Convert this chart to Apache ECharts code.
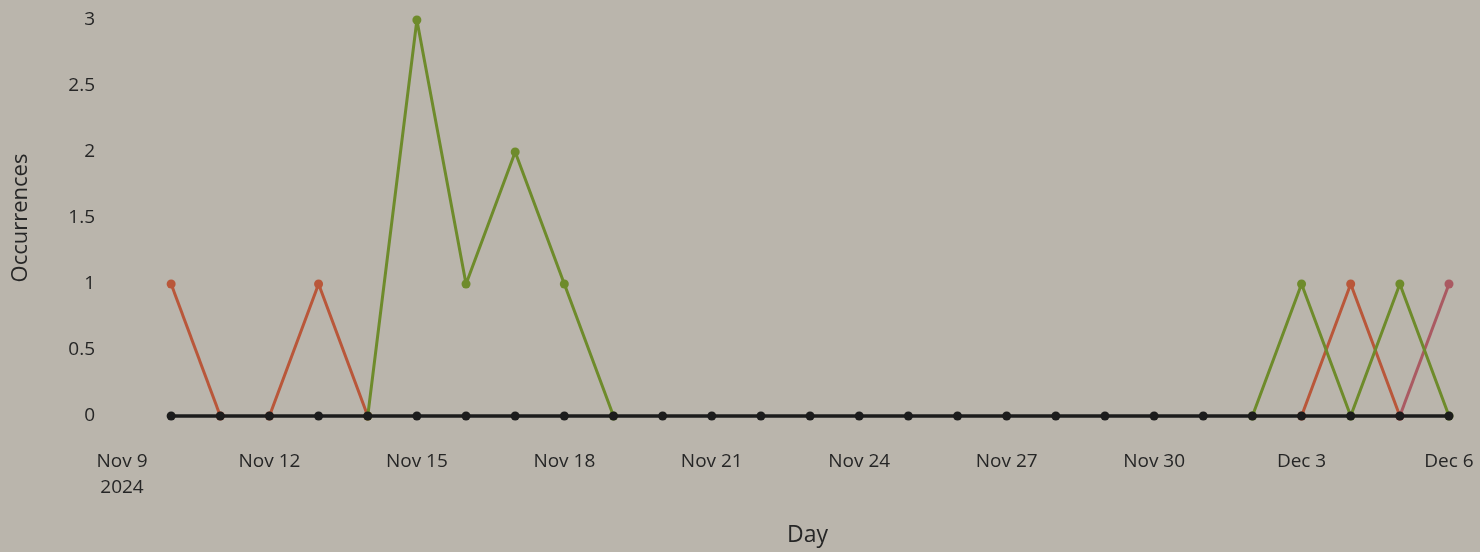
<!DOCTYPE html>
<html>
<head>
<meta charset="utf-8">
<script src="https://cdn.jsdelivr.net/npm/echarts@6/dist/echarts.min.js"></script>
<style>
html, body { margin: 0; padding: 0; background: #bab5ac; }
#chart { width: 1480px; height: 552px; }
</style>
</head>
<body>
<div id="chart"></div>
<script>
// days Nov 9 .. Dec 6 2024
var days = ['Nov 9', 'Nov 10', 'Nov 11', 'Nov 12', 'Nov 13', 'Nov 14', 'Nov 15', 'Nov 16', 'Nov 17', 'Nov 18',
	'Nov 19', 'Nov 20', 'Nov 21', 'Nov 22', 'Nov 23', 'Nov 24', 'Nov 25', 'Nov 26', 'Nov 27', 'Nov 28',
	'Nov 29', 'Nov 30', 'Dec 1', 'Dec 2', 'Dec 3', 'Dec 4', 'Dec 5', 'Dec 6'];
// orange drawn as two runs (Nov 10-11, and Nov 12 onwards)
var orangeVals1 = [null, 1, 0, null, null, null, null, null, null, null,
	null, null, null, null, null, null, null, null, null, null,
	null, null, null, null, null, null, null, null];
var orangeVals2 = [null, null, null, 0, 1, 0, null, null, null, null,
	null, null, null, null, null, null, null, null, null, null,
	null, null, null, null, 0, 1, 0, null];
var greenVals = [null, null, null, null, null, 0, 3, 1, 2, 1,
	0, null, null, null, null, null, null, null, null, null,
	null, null, null, 0, 1, 0, 1, 0];
var pinkVals = [null, null, null, null, null, null, null, null, null, null,
	null, null, null, null, null, null, null, null, null, null,
	null, null, null, null, null, null, 0, 1];
var blackVals = [null, 0, 0, 0, 0, 0, 0, 0, 0, 0,
	0, 0, 0, 0, 0, 0, 0, 0, 0, 0,
	0, 0, 0, 0, 0, 0, 0, 0];
var yTicks = [0, 0.5, 1, 1.5, 2, 2.5, 3];

var chart = echarts.init(document.getElementById('chart'));

function lineSeries(name, data, color, z, width){
	return {
		name: name,
		type: 'line',
		data: data,
		z: z,
		symbol: 'circle',
		symbolSize: 9,
		connectNulls: false,
		clip: false,
		lineStyle: { color: color, width: width },
		itemStyle: { color: color }
	};
}

var option = {
	backgroundColor: '#bab5ac',
	animation: false,
	grid: { left: 122, right: 31, top: 20, bottom: 134 },
	xAxis: {
		type: 'category',
		data: days,
		boundaryGap: false,
		name: 'Day',
		nameLocation: 'middle',
		nameGap: 108,
		nameTextStyle: { fontFamily: 'Open Sans', fontSize: 23, color: '#262626', padding: [0, 0, 0, 44] },
		axisLine: { show: false },
		axisTick: { show: false },
		splitLine: { show: false },
		axisLabel: {
			interval: 2,
			margin: 33,
			fontFamily: 'Open Sans',
			fontSize: 19,
			fontWeight: 500,
			color: '#262626',
			lineHeight: 26,
			formatter: function (value, index) {
				return index === 0 ? value + '\n2024' : value;
			}
		}
	},
	yAxis: {
		type: 'value',
		min: 0,
		max: 3,
		interval: 0.5,
		name: 'Occurrences',
		nameLocation: 'middle',
		nameGap: 90,
		nameTextStyle: { fontFamily: 'Open Sans', fontSize: 22, color: '#262626' },
		axisLine: { show: false },
		axisTick: { show: false },
		splitLine: { show: false },
		axisLabel: {
			margin: 27,
			fontFamily: 'Open Sans',
			fontSize: 19,
			fontWeight: 500,
			color: '#262626',
			formatter: function (v) { return yTicks.indexOf(v) >= 0 ? String(v) : ''; }
		}
	},
	series: [
		lineSeries('orange', orangeVals1, '#b9573a', 2, 3),
		lineSeries('orange2', orangeVals2, '#b9573a', 2, 3),
		lineSeries('green', greenVals, '#6e8b2b', 3, 3),
		lineSeries('pink', pinkVals, '#aa5a62', 2, 3),
		lineSeries('black', blackVals, '#1c1c1c', 4, 3.6)
	]
};
chart.setOption(option);
</script>
</body>
</html>
